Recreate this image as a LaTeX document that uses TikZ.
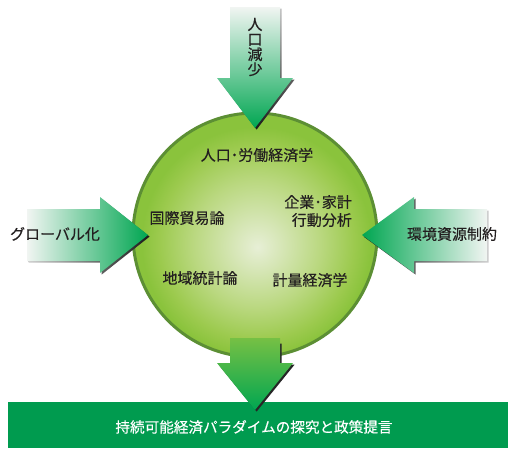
\documentclass[tikz,border=0pt]{standalone}
\usepackage{fontspec}
\newfontfamily\jp[FakeBold=0.35]{Noto Sans CJK JP}
\definecolor{agreen}{RGB}{0,166,81}
\definecolor{alight}{RGB}{241,245,242}
\definecolor{bargreen}{RGB}{0,155,79}
\definecolor{ringdark}{RGB}{92,143,52}
\definecolor{cout}{RGB}{138,195,60}
\definecolor{cout2}{RGB}{156,202,78}
\definecolor{cmid}{RGB}{186,216,128}
\definecolor{cin2}{RGB}{214,230,182}
\definecolor{cin}{RGB}{231,239,214}
\definecolor{txt}{RGB}{35,31,32}
\definecolor{stemtop}{RGB}{118,192,68}
\pgfdeclareradialshading{circshade}{\pgfpoint{0.5bp}{-2.5bp}}{color(0bp)=(cin); color(5bp)=(cin2); color(13bp)=(cmid); color(20bp)=(cout2); color(23.5bp)=(cout); color(50bp)=(cout)}
\begin{document}
\begin{tikzpicture}[x=1pt,y=-1pt,
  lbl/.style={font=\jp\fontsize{15}{18}\selectfont, text=txt, inner sep=0pt},
  wlbl/.style={font=\jp\fontsize{14.6}{18}\selectfont, text=white, inner sep=0pt},
  shadowfill/.style={top color=gray!50, bottom color=black!90},
  hub/.style={circle, minimum size=244pt, inner sep=0pt, shading=circshade, draw=ringdark, line width=3pt}]
\useasboundingbox (0,0) rectangle (508,448);
% circle
\node[hub] (hub) at (255,235) {};
% bar
\fill[bargreen] (8,402) rectangle (508,448);
% top arrow
\begin{scope}[shift={(1.6,1.6)}]
\shade[shadowfill] (230,7) -- (280,7) -- (280,78) -- (293,78) -- (255,128) -- (217,78) -- (230,78) -- cycle;
\end{scope}
\shade[top color=alight, bottom color=agreen] (230,7) -- (280,7) -- (280,78) -- (293,78) -- (255,128) -- (217,78) -- (230,78) -- cycle;
% left arrow
\begin{scope}[shift={(1.6,1.6)}]
\shade[left color=gray!40, right color=black!90] (27,209) -- (100,209) -- (100,197) -- (148,235) -- (100,273) -- (100,261) -- (27,261) -- cycle;
\end{scope}
\shade[left color=alight, right color=agreen] (27,209) -- (100,209) -- (100,197) -- (148,235) -- (100,273) -- (100,261) -- (27,261) -- cycle;
% right arrow
\begin{scope}[shift={(1.6,1.6)}]
\shade[left color=black!90, right color=gray!40] (487,209) -- (414,209) -- (414,197) -- (362,235) -- (414,273) -- (414,261) -- (487,261) -- cycle;
\end{scope}
\shade[left color=agreen, right color=alight] (487,209) -- (414,209) -- (414,197) -- (362,235) -- (414,273) -- (414,261) -- (487,261) -- cycle;
% bottom arrow
\begin{scope}[shift={(1.6,1.6)}]
\fill[black!85] (230,342) -- (280,342) -- (280,363) -- (293,363) -- (255,410) -- (217,363) -- (230,363) -- cycle;
\end{scope}
\shade[top color=stemtop, bottom color=agreen] (230,338) -- (280,338) -- (280,363) -- (293,363) -- (255,410) -- (217,363) -- (230,363) -- cycle;
% labels
\node[lbl, align=center, font=\jp\fontsize{15}{15}\selectfont] (pop) at (255,47) {人\\口\\減\\少};
\node[lbl] (glob) at (55,234) {グローバル化};
\node[lbl] (env) at (452,234) {環境資源制約};
\node[lbl] (labor) at (257,155) {人口･労働経済学};
\node[lbl, align=right, anchor=east] (firm) at (352,211) {企業･家計\\行動分析};
\node[lbl] (trade) at (187,218) {国際貿易論};
\node[lbl] (region) at (200,278) {地域統計論};
\node[lbl] (econ) at (310,280) {計量経済学};
\node[wlbl] (goal) at (254,427) {持続可能経済パラダイムの探究と政策提言};
\end{tikzpicture}
\end{document}
